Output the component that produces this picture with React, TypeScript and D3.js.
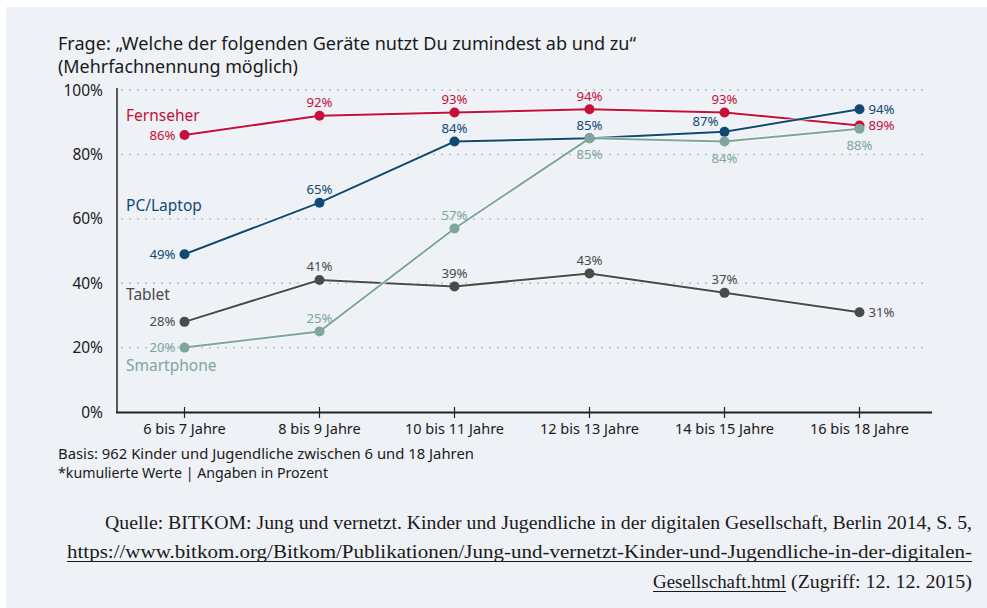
import React from "react";
import * as d3 from "d3";

const categories = ["6 bis 7 Jahre", "8 bis 9 Jahre", "10 bis 11 Jahre", "12 bis 13 Jahre", "14 bis 15 Jahre", "16 bis 18 Jahre"];
const fernseher = [86, 92, 93, 94, 93, 89];
const pcLaptop = [49, 65, 84, 85, 87, 94];
const tablet = [28, 41, 39, 43, 37, 31];
const smartphone = [20, 25, 57, 85, 84, 88];
const yTicks = [0, 20, 40, 60, 80, 100];

// label placement for each value label: l = left, a = above, b = below, r = right, al = above-left
const fernseherPos = ["l", "a", "a", "a", "a", "r"];
const pcPos = ["l", "a", "a", "a", "al", "r"];
const tabletPos = ["l", "a", "a", "a", "a", "r"];
const smartPos = ["l", "a", "a", "b", "b", "b"];

const W = 987, H = 608;
const FONT = "'Noto Sans', sans-serif";

export default function App() {
  const x = d3.scaleBand<string>().domain(categories).range([117, 927]);
  const y = d3.scaleLinear().domain([0, 100]).range([412, 90]);
  const cx = (c: string) => (x(c) as number) + x.bandwidth() / 2;

  const series = [
    { name: "Fernseher", values: fernseher, pos: fernseherPos, color: "#c4103a", labelY: 92 },
    { name: "PC/Laptop", values: pcLaptop, pos: pcPos, color: "#104a73", labelY: 64 },
    { name: "Tablet", values: tablet, pos: tabletPos, color: "#4a4a4a", labelY: 36.3 },
    { name: "Smartphone", values: smartphone, pos: smartPos, color: "#7fa69c", labelY: 14.2 },
  ];

  const line = d3.line<number>().x((_, i) => cx(categories[i])).y((d) => y(d));

  const bg = "#eef1f6";

  return (
    <svg width={W} height={H} style={{ position: "absolute", left: 0, top: 0 }} fontFamily={FONT}>
      <rect x={0} y={0} width={W} height={H} fill="#ffffff" />
      <rect x={6} y={7} width={W - 6} height={H - 7} fill={bg} />

      <text x={58} y={50} fontSize={17.5} fill="#1a1a1a" textLength={578} lengthAdjust="spacingAndGlyphs">Frage: „Welche der folgenden Geräte nutzt Du zumindest ab und zu“</text>
      <text x={58} y={73} fontSize={17.5} fill="#1a1a1a" textLength={240} lengthAdjust="spacingAndGlyphs">(Mehrfachnennung möglich)</text>

      {yTicks.filter((t) => t > 0).map((t) => (
        <line key={"g" + t} x1={122} x2={927} y1={y(t)} y2={y(t)} stroke="#a3b6ca" strokeWidth={1.8} strokeDasharray="0 8" strokeLinecap="round" />
      ))}
      {yTicks.map((t) => (
        <text key={"yt" + t} x={103} y={y(t) + 5.5} fontSize={15.5} textAnchor="end" fill="#1a1a1a">{t}%</text>
      ))}

      <line x1={117} x2={117} y1={88} y2={413} stroke="#333" strokeWidth={1.6} />
      <line x1={116} x2={932} y1={412.5} y2={412.5} stroke="#222" strokeWidth={2} />
      {categories.map((c) => (
        <g key={c}>
          <line x1={cx(c)} x2={cx(c)} y1={407} y2={418} stroke="#222" strokeWidth={1.2} />
          <text x={cx(c)} y={434} fontSize={14.5} textAnchor="middle" fill="#1a1a1a">{c}</text>
        </g>
      ))}

      {series.map((s) => (
        <g key={s.name}>
          <path d={line(s.values) || ""} fill="none" stroke="#ffffff" strokeOpacity={0.6} strokeWidth={4} />
          <path d={line(s.values) || ""} fill="none" stroke={s.color} strokeWidth={2} />
        </g>
      ))}
      {series.map((s) => (
        <g key={s.name + "pts"}>
          {s.values.map((v, i) => {
            const px = cx(categories[i]);
            const py = y(v);
            const p = s.pos[i];
            let tx = px, ty = py, anchor = "middle";
            if (p === "l") { tx = px - 9; ty = py + 4.5; anchor = "end"; }
            else if (p === "r") { tx = px + 9; ty = py + 4.5; anchor = "start"; }
            else if (p === "a") { ty = py - 8.5; }
            else if (p === "b") { ty = py + 21; }
            else if (p === "al") { tx = px - 6; ty = py - 6; anchor = "end"; }
            return (
              <g key={i}>
                <circle cx={px} cy={py} r={5} fill={s.color} />
                <text x={tx} y={ty} fontSize={13.2} textAnchor={anchor} fill={s.color}>{v}%</text>
              </g>
            );
          })}
          <text x={126} y={y(s.labelY) + 5} fontSize={15.5} fill={s.color}>{s.name}</text>
        </g>
      ))}

      <text x={58} y={459} fontSize={14} fill="#1a1a1a" textLength={416} lengthAdjust="spacingAndGlyphs">Basis: 962 Kinder und Jugendliche zwischen 6 und 18 Jahren</text>
      <text x={58} y={478} fontSize={14} fill="#1a1a1a" textLength={270} lengthAdjust="spacingAndGlyphs">*kumulierte Werte | Angaben in Prozent</text>

      <g fontFamily="'Liberation Serif', serif" fontSize={18} fill="#1a1a1a">
        <text x={105} y={529} textLength={867} lengthAdjust="spacingAndGlyphs">Quelle: BITKOM: Jung und vernetzt. Kinder und Jugendliche in der digitalen Gesellschaft, Berlin 2014, S. 5,</text>
        <text x={67} y={558} textLength={905} lengthAdjust="spacingAndGlyphs">https://www.bitkom.org/Bitkom/Publikationen/Jung-und-vernetzt-Kinder-und-Jugendliche-in-der-digitalen-</text>
        <line x1={67} x2={972} y1={561.5} y2={561.5} stroke="#1a1a1a" strokeWidth={1} />
        <text x={653} y={588} textLength={133} lengthAdjust="spacingAndGlyphs">Gesellschaft.html</text>
        <line x1={653} x2={786} y1={591.5} y2={591.5} stroke="#1a1a1a" strokeWidth={1} />
        <text x={972} y={588} textAnchor="end" textLength={181} lengthAdjust="spacingAndGlyphs">(Zugriff: 12. 12. 2015)</text>
      </g>
    </svg>
  );
}
